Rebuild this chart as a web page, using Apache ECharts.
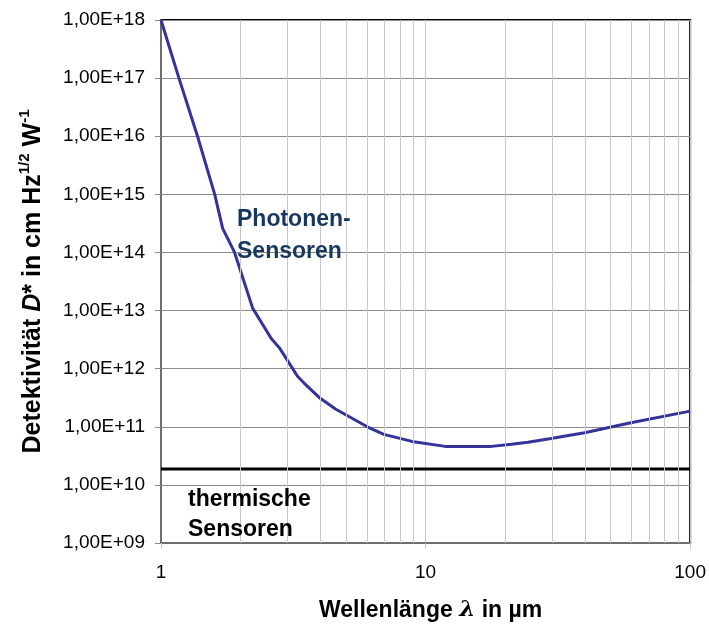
<!DOCTYPE html>
<html style="height: 100%">
<head>
<meta charset="utf-8">
<title>Detektivität</title>
<script src="https://cdn.jsdelivr.net/npm/echarts@6/dist/echarts.min.js"></script>
</head>
<body style="height: 100%; margin: 0; background: #fff">
<div id="main" style="width: 709px; height: 627px;"></div>
<script type="text/javascript">
// Wellenlänge in µm und Detektivität D* (cm Hz^1/2 W^-1)
var lambda = [1.00, 1.169, 1.374, 1.596, 1.71, 1.897, 2.22, 2.61, 2.80, 3.28, 3.48,
              3.96, 4.58, 6.02, 6.95, 8.88, 11.86, 17.75, 21.1, 24.4, 29.8, 39.9, 59.7, 100];
var photonen = [1e18, 1e17, 1e16, 1e15, 2.6e14, 1e14, 1.1e13, 3.3e12, 2.3e12, 7.4e11, 5.6e11,
                3.2e11, 2.0e11, 1.0e11, 7.4e10, 5.6e10, 4.6e10, 4.6e10, 5.0e10, 5.4e10, 6.3e10, 7.9e10, 1.17e11, 1.86e11];
var thermLambda = [1, 100];
var thermisch = [1.87e10, 1.87e10];
// Nebengitter (2..9 je Dekade)
var xMinor = [2, 3, 4, 5, 6, 7, 8, 9, 20, 30, 40, 50, 60, 70, 80, 90];

var font = 'Liberation Sans, Arial, sans-serif';

var dom = document.getElementById('main');
var myChart = echarts.init(dom);

function pad(n) { return (n < 10 ? '0' : '') + n; }

var option = {
    animation: false,
    textStyle: { fontFamily: font },
    grid: {
        left: 161, top: 20, right: 16, bottom: 81,
        show: true, borderColor: '#000', borderWidth: 2, backgroundColor: 'transparent'
    },
    xAxis: {
        type: 'log', logBase: 10, min: 1, max: 100,
        name: 'Wellenlänge {l|λ} in µm',
        nameLocation: 'middle', nameGap: 56,
        nameTextStyle: {
            fontFamily: font, fontSize: 23, fontWeight: 'bold', color: '#000', padding: [0, 0, 0, 10],
            rich: { l: { fontFamily: 'DejaVu Serif', fontStyle: 'italic', fontSize: 23, fontWeight: 'bold', color: '#000' } }
        },
        axisLine: { lineStyle: { color: '#6e6e6e', width: 2 } },
        axisTick: { length: 6, lineStyle: { color: '#c8c8c8' } },
        axisLabel: { fontSize: 19, color: '#000', margin: 20, fontFamily: font },
        splitLine: { show: true, lineStyle: { color: '#c8c8c8', width: 1 } }
    },
    yAxis: {
        type: 'log', logBase: 10, min: 1e9, max: 1e18,
        name: 'Detektivität {i|D}* in cm Hz{s|1/2} W{s|-1}',
        nameLocation: 'middle', nameGap: 112, nameRotate: 90,
        nameTextStyle: {
            fontFamily: font, fontSize: 25, fontWeight: 'bold', color: '#000', lineHeight: 32,
            rich: {
                i: { fontFamily: font, fontSize: 25, fontWeight: 'bold', fontStyle: 'italic', color: '#000', lineHeight: 32 },
                s: { fontFamily: font, fontSize: 15, fontWeight: 'bold', color: '#000', verticalAlign: 'top', lineHeight: 32 }
            }
        },
        axisLine: { lineStyle: { color: '#6e6e6e', width: 2 } },
        axisTick: { length: 6, lineStyle: { color: '#8c8c8c' } },
        axisLabel: {
            fontSize: 19, color: '#000', margin: 16, fontFamily: font,
            formatter: function (v) { return '1,00E+' + pad(Math.round(Math.log10(v))); }
        },
        splitLine: { show: true, lineStyle: { color: '#8c8c8c', width: 1 } }
    },
    graphic: [
        {
            type: 'text', left: 237, top: 204, z: 10,
            style: { text: 'Photonen-\nSensoren', font: 'bold 23px ' + font, fill: '#17375e', lineHeight: 32 }
        },
        {
            type: 'text', left: 188, top: 485, z: 10,
            style: { text: 'thermische\nSensoren', font: 'bold 23px ' + font, fill: '#000', lineHeight: 30 }
        }
    ],
    series: [
        {
            name: 'gitter', type: 'line', data: [], z: 1, silent: true,
            markLine: {
                silent: true, symbol: 'none', animation: false,
                label: { show: false },
                lineStyle: { color: '#c8c8c8', width: 1, type: 'solid' },
                data: xMinor.map(function (x) { return { xAxis: x }; })
            }
        },
        {
            name: 'thermische Sensoren', type: 'line', z: 3,
            data: thermLambda.map(function (x, i) { return [x, thermisch[i]]; }),
            showSymbol: false, symbol: 'none',
            lineStyle: { color: '#000', width: 3 }
        },
        {
            name: 'Photonen-Sensoren', type: 'line', z: 4,
            data: lambda.map(function (x, i) { return [x, photonen[i]]; }),
            showSymbol: false, symbol: 'none',
            lineStyle: { color: '#333399', width: 3 }
        }
    ]
};
myChart.setOption(option, true);
</script>
</body>
</html>
